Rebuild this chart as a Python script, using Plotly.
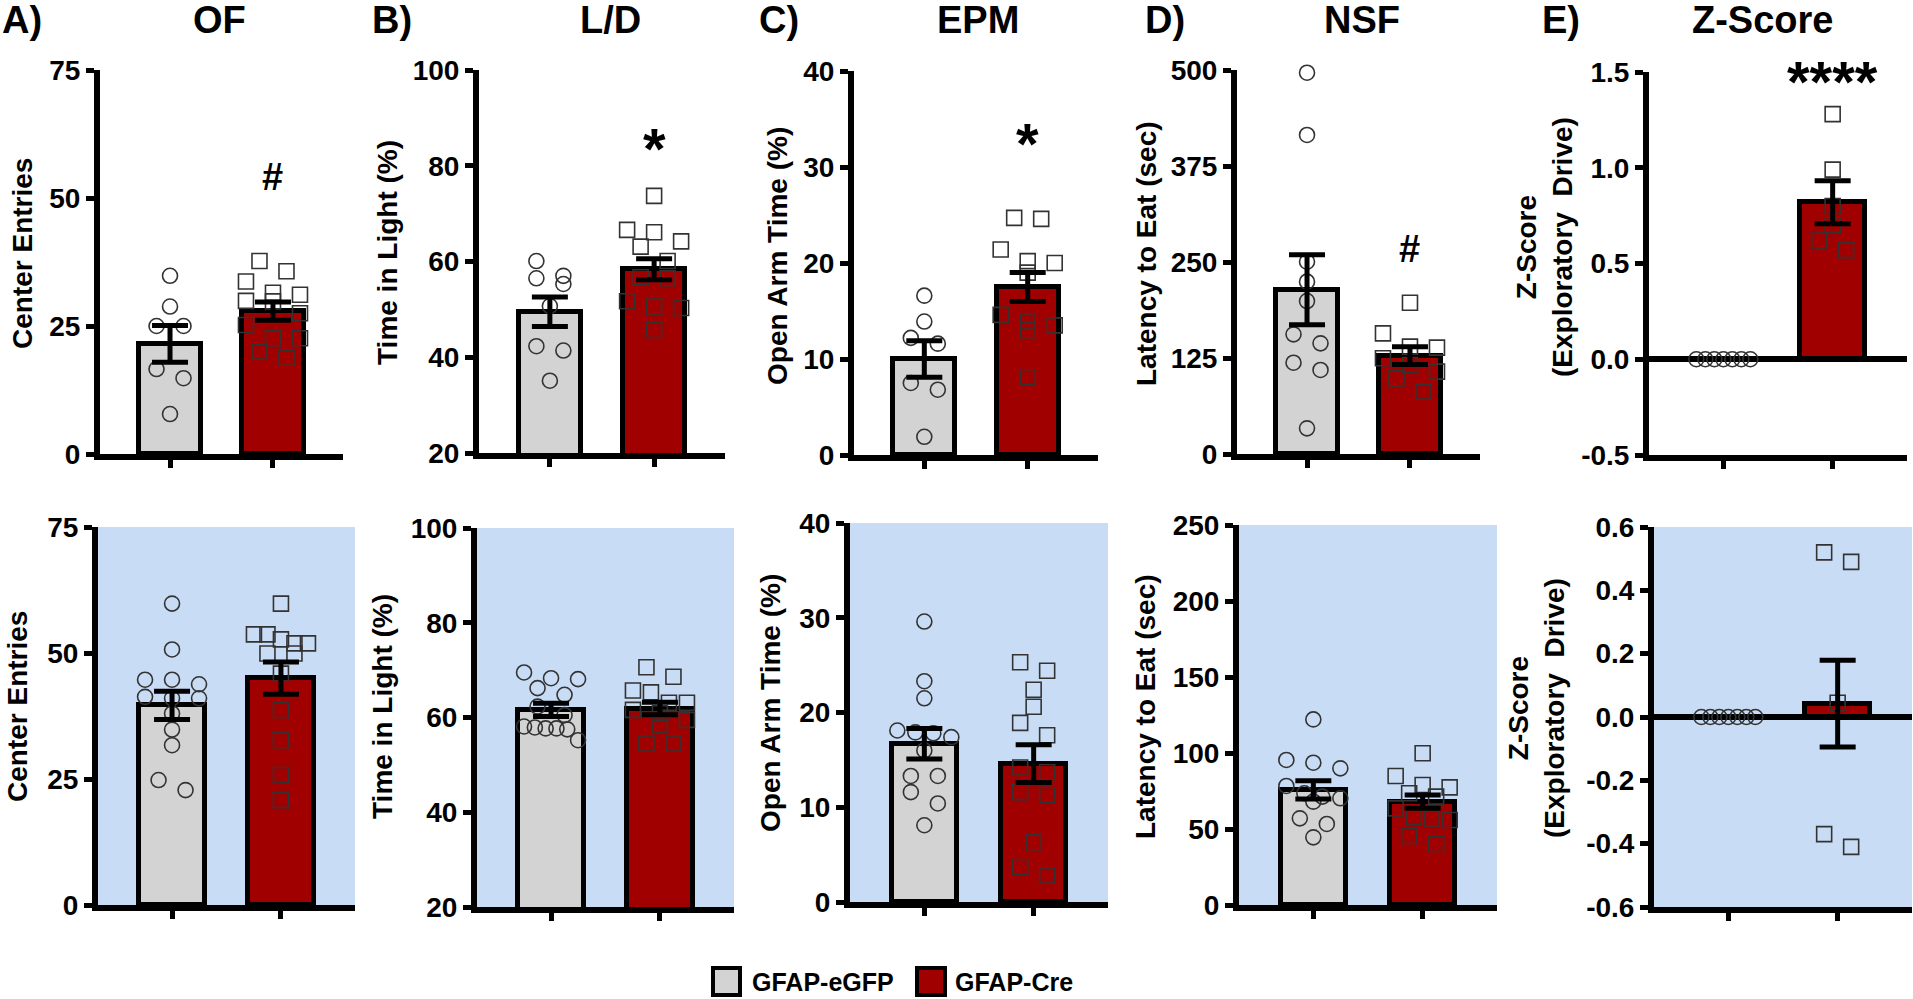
import plotly.graph_objects as go

# ---------------- DATA ----------------
groups = ["GFAP-eGFP", "GFAP-Cre"]

# Top row (panels A-E)
of_top_egfp = [34.8, 28.8, 25.0, 25.0, 16.6, 14.8, 7.8]
of_top_cre = [37.7, 35.7, 33.7, 31.5, 31.1, 29.9, 29.8, 27.5, 25.2, 22.6, 22.6, 20.0, 18.8]
of_top_mean = [21.5, 27.9]
of_top_sem = [3.6, 1.8]

ld_top_egfp = [60.1, 57.0, 56.5, 55.3, 50.7, 42.3, 41.4, 35.1]
ld_top_cre = [73.7, 66.6, 66.1, 64.2, 63.1, 60.1, 56.7, 56.5, 51.7, 50.6, 50.3, 45.7]
ld_top_mean = [49.5, 58.4]
ld_top_sem = [3.1, 2.2]

epm_top_egfp = [16.6, 13.9, 12.2, 11.6, 7.5, 6.8, 1.9]
epm_top_cre = [24.7, 24.6, 21.4, 20.2, 20.0, 19.0, 14.6, 13.9, 13.5, 13.0, 8.1]
epm_top_mean = [10.0, 17.5]
epm_top_sem = [1.9, 1.5]

nsf_top_egfp = [496.5, 415.4, 250.4, 224.4, 199.2, 155.8, 144.1, 118.9, 109.4, 33.4]
nsf_top_cre = [197.0, 157.0, 139.8, 138.5, 124.6, 115.9, 107.2, 98.5, 81.2]
nsf_top_mean = [214.0, 128.0]
nsf_top_sem = [45.6, 11.5]

z_top_egfp = [0.0, 0.0, 0.0, 0.0, 0.0, 0.0, 0.0]
z_top_cre = [1.28, 0.99, 0.80, 0.70, 0.62, 0.57]
z_top_mean = [0.0, 0.82]
z_top_sem = [0.0, 0.112]

# Bottom row
of_bot_egfp = [59.8, 50.7, 44.7, 44.7, 43.8, 41.3, 41.0, 41.0, 38.0, 34.8, 31.7, 24.8, 22.8]
of_bot_cre = [59.8, 53.7, 53.7, 52.7, 51.9, 51.9, 49.9, 49.9, 45.9, 38.7, 32.7, 25.8, 20.8]
of_bot_mean = [39.6, 45.0]
of_bot_sem = [2.8, 3.2]

ld_bot_egfp = [69.5, 68.3, 68.1, 66.2, 64.8, 62.3, 60.5, 58.1, 57.9, 57.7, 57.7, 57.5, 55.2]
ld_bot_cre = [70.6, 68.6, 65.7, 65.3, 63.1, 63.1, 61.6, 60.9, 59.5, 58.4, 54.5, 54.5]
ld_bot_mean = [61.6, 61.9]
ld_bot_sem = [1.4, 1.3]

epm_bot_egfp = [29.6, 23.3, 21.5, 18.1, 17.9, 17.8, 17.4, 16.0, 13.3, 13.3, 11.6, 10.4, 8.1]
epm_bot_cre = [25.3, 24.4, 22.4, 20.6, 18.9, 17.6, 14.2, 13.7, 11.6, 11.3, 6.3, 3.7, 2.8]
epm_bot_mean = [16.7, 14.6]
epm_bot_sem = [1.6, 2.0]

nsf_bot_egfp = [122.1, 95.4, 93.6, 89.9, 78.3, 73.5, 71.3, 70.2, 68.0, 57.0, 53.3, 44.5]
nsf_bot_cre = [99.8, 84.9, 78.9, 77.4, 73.5, 71.3, 63.6, 58.1, 57.0, 55.9, 45.4, 40.1]
nsf_bot_mean = [75.8, 68.0]
nsf_bot_sem = [6.0, 4.4]

z_bot_egfp = [0.0, 0.0, 0.0, 0.0, 0.0, 0.0, 0.0]
z_bot_cre = [0.52, 0.49, 0.045, -0.37, -0.41]
z_bot_mean = [0.0, 0.042]
z_bot_sem = [0.0, 0.137]

panel_letters = ["A)", "B)", "C)", "D)", "E)"]
panel_titles = ["OF", "L/D", "EPM", "NSF", "Z-Score"]
y_titles = ["Center Entries", "Time in Light (%)", "Open Arm Time (%)",
            "Latency to Eat (sec)", "Z-Score<br>(Exploratory  Drive)"]
top_marks = ["#", "*", "*", "#", "****"]

# ---------------- STYLE / LAYOUT ----------------
W, H = 1913, 999
FONT = "Liberation Sans, Arial, sans-serif"
GRAY = "#D3D3D3"
RED = "#A00000"
BLUE_BG = "#C9DCF5"
PT_COLOR = "#333333"
XR = [-0.68, 1.68]

panels = [
    # top row
    dict(eg=of_top_egfp, cr=of_top_cre, m=of_top_mean, s=of_top_sem, yr=[0, 75], tv=[0, 25, 50, 75], fmt="{:.0f}", px=(100, 343), py=(70, 454), bg=False),
    dict(eg=ld_top_egfp, cr=ld_top_cre, m=ld_top_mean, s=ld_top_sem, yr=[20, 100], tv=[20, 40, 60, 80, 100], fmt="{:.0f}", px=(479, 725), py=(70, 453), bg=False),
    dict(eg=epm_top_egfp, cr=epm_top_cre, m=epm_top_mean, s=epm_top_sem, yr=[0, 40], tv=[0, 10, 20, 30, 40], fmt="{:.0f}", px=(854, 1098), py=(71, 455), bg=False),
    dict(eg=nsf_top_egfp, cr=nsf_top_cre, m=nsf_top_mean, s=nsf_top_sem, yr=[0, 500], tv=[0, 125, 250, 375, 500], fmt="{:.0f}", px=(1237, 1480), py=(70, 454), bg=False),
    dict(eg=z_top_egfp, cr=z_top_cre, m=z_top_mean, s=z_top_sem, yr=[-0.5, 1.5], tv=[-0.5, 0.0, 0.5, 1.0, 1.5], fmt="{:.1f}", px=(1649, 1907), py=(72, 455), bg=False),
    # bottom row
    dict(eg=of_bot_egfp, cr=of_bot_cre, m=of_bot_mean, s=of_bot_sem, yr=[0, 75], tv=[0, 25, 50, 75], fmt="{:.0f}", px=(98, 355), py=(527, 905), bg=True),
    dict(eg=ld_bot_egfp, cr=ld_bot_cre, m=ld_bot_mean, s=ld_bot_sem, yr=[20, 100], tv=[20, 40, 60, 80, 100], fmt="{:.0f}", px=(477, 734), py=(528, 907), bg=True),
    dict(eg=epm_bot_egfp, cr=epm_bot_cre, m=epm_bot_mean, s=epm_bot_sem, yr=[0, 40], tv=[0, 10, 20, 30, 40], fmt="{:.0f}", px=(850, 1108), py=(523, 902), bg=True),
    dict(eg=nsf_bot_egfp, cr=nsf_bot_cre, m=nsf_bot_mean, s=nsf_bot_sem, yr=[0, 250], tv=[0, 50, 100, 150, 200, 250], fmt="{:.0f}", px=(1239, 1497), py=(525, 905), bg=True),
    dict(eg=z_bot_egfp, cr=z_bot_cre, m=z_bot_mean, s=z_bot_sem, yr=[-0.6, 0.6], tv=[-0.6, -0.4, -0.2, 0.0, 0.2, 0.4, 0.6], fmt="{:.1f}", px=(1654, 1912), py=(527, 907), bg=True),
]

# y-axis title centres (pixels), title/letter positions
ytitle_pos = [(22, 254), (388, 253), (777, 256), (1146, 254), (1545, 247),
              (17, 707), (382, 707), (770, 703), (1145, 707), (1536, 708)]
letter_x = [0, 370, 757, 1143, 1540]
title_x = [219, 610, 978, 1362, 1762]
mark_y = [177, 141, 135, 249, 73]


def swarm(values, center, ppu_y, ppu_x, d=15.0, s_max=27.0, span_max=54.0):
    order = sorted(range(len(values)), key=lambda i: -values[i])
    bins, cur = [], []
    for i in order:
        if cur and (values[cur[0]] - values[i]) * ppu_y >= d:
            bins.append(cur)
            cur = []
        cur.append(i)
    if cur:
        bins.append(cur)
    xs = [center] * len(values)
    for b in bins:
        n = len(b)
        s = s_max if n < 2 else min(s_max, span_max / (n - 1))
        for k, i in enumerate(b):
            xs[i] = center + (k - (n - 1) / 2) * s / ppu_x
    return xs


fig = go.Figure()
layout = dict(width=W, height=H, margin=dict(l=0, r=0, t=0, b=0, autoexpand=False),
              paper_bgcolor="white", plot_bgcolor="rgba(0,0,0,0)",
              showlegend=False, font=dict(family=FONT, color="black"))
shapes, annotations = [], []

for idx, p in enumerate(panels):
    n = idx + 1
    xa = "x" if n == 1 else f"x{n}"
    ya = "y" if n == 1 else f"y{n}"
    x0, x1 = p["px"]
    yt, yb = p["py"]
    ppu_x = (x1 - x0) / (XR[1] - XR[0])
    ppu_y = (yb - yt) / (p["yr"][1] - p["yr"][0])
    is_z = p["yr"][0] < 0

    layout["xaxis" if n == 1 else f"xaxis{n}"] = dict(
        domain=[x0 / W, x1 / W], anchor=ya, range=XR, showgrid=False, zeroline=False,
        showline=True, linecolor="black", linewidth=6, tickvals=[0, 1], ticktext=["", ""],
        ticks="outside", ticklen=8, tickwidth=5, tickcolor="black", showticklabels=False,
        automargin=False, fixedrange=True)
    layout["yaxis" if n == 1 else f"yaxis{n}"] = dict(
        domain=[1 - yb / H, 1 - yt / H], anchor=xa, range=p["yr"], showgrid=False,
        zeroline=is_z, zerolinecolor="black", zerolinewidth=6,
        showline=True, linecolor="black", linewidth=6,
        tickvals=p["tv"], ticktext=[p["fmt"].format(v) for v in p["tv"]],
        ticks="outside", ticklen=8, tickwidth=5, tickcolor="black",
        tickfont=dict(family=FONT, size=28, color="black", weight="bold"),
        automargin=False, fixedrange=True)

    if p["bg"]:
        shapes.append(dict(type="rect", xref=f"{xa} domain", yref=f"{ya} domain",
                           x0=0, x1=1, y0=0, y1=1, fillcolor=BLUE_BG,
                           line=dict(width=0), layer="below"))

    # bars
    fig.add_trace(go.Bar(x=[0, 1], y=p["m"], width=0.6, xaxis=xa, yaxis=ya,
                         marker=dict(color=[GRAY, RED], line=dict(color="black", width=5)),
                         name="", hoverinfo="skip"))
    # individual points
    for gi, (vals, sym) in enumerate([(p["eg"], "circle-open"), (p["cr"], "square-open")]):
        xs = swarm(vals, gi, ppu_y, ppu_x)
        fig.add_trace(go.Scatter(x=xs, y=vals, mode="markers", xaxis=xa, yaxis=ya,
                                 marker=dict(symbol=sym, size=15, color=PT_COLOR,
                                             line=dict(width=1.6, color=PT_COLOR)),
                                 cliponaxis=False, hoverinfo="skip"))
    # error bars (drawn over the points)
    ex = [i for i in range(2) if p["s"][i] > 0]
    fig.add_trace(go.Scatter(x=ex, y=[p["m"][i] for i in ex], mode="markers",
                             xaxis=xa, yaxis=ya,
                             marker=dict(size=1, color="rgba(0,0,0,0)"),
                             error_y=dict(type="data", array=[p["s"][i] for i in ex],
                                          color="black", thickness=5, width=18),
                             hoverinfo="skip"))

    # y-axis title
    tx, ty = ytitle_pos[idx]
    annotations.append(dict(text=y_titles[idx % 5], x=tx / W, y=1 - ty / H, xref="paper",
                            yref="paper", textangle=-90, showarrow=False,
                            xanchor="center", yanchor="middle",
                            font=dict(family=FONT, size=28, color="black", weight="bold")))

# titles, letters, significance marks
for i in range(5):
    annotations.append(dict(text=panel_letters[i], x=letter_x[i] / W, y=1 - 20 / H,
                            xref="paper", yref="paper", showarrow=False,
                            xanchor="left", yanchor="middle",
                            font=dict(family=FONT, size=38, color="black", weight="bold")))
    annotations.append(dict(text=panel_titles[i], x=title_x[i] / W, y=1 - 20 / H,
                            xref="paper", yref="paper", showarrow=False,
                            xanchor="center", yanchor="middle",
                            font=dict(family=FONT, size=38, color="black", weight="bold")))
    xa = "x" if i == 0 else f"x{i + 1}"
    mk = top_marks[i]
    star = "*" in mk
    size = 58 if star else 38
    dy = 8 if star else 0
    annotations.append(dict(text=mk, x=1, xref=xa, y=1 - (mark_y[i] + dy) / H,
                            yref="paper", showarrow=False, xanchor="center",
                            yanchor="middle",
                            font=dict(family=FONT, size=size, color="black", weight="bold")))

# legend (custom)
leg_items = [(713, 740, GRAY, 750), (917, 945, RED, 953)]
for (lx0, lx1, col, tx), g in zip(leg_items, groups):
    shapes.append(dict(type="rect", xref="paper", yref="paper",
                       x0=lx0 / W, x1=lx1 / W, y0=1 - 995 / H, y1=1 - 968 / H,
                       fillcolor=col, line=dict(color="black", width=4)))
    annotations.append(dict(text=g, x=tx / W, y=1 - 982 / H, xref="paper", yref="paper",
                            showarrow=False, xanchor="left", yanchor="middle",
                            font=dict(family=FONT, size=25, color="black", weight="bold")))

layout["shapes"] = shapes
layout["annotations"] = annotations
layout["bargap"] = 0
fig.update_layout(**layout)
fig.write_html("out.html", config={"displayModeBar": False},
               post_script="document.body.style.margin='0';document.body.style.overflow='hidden';")
